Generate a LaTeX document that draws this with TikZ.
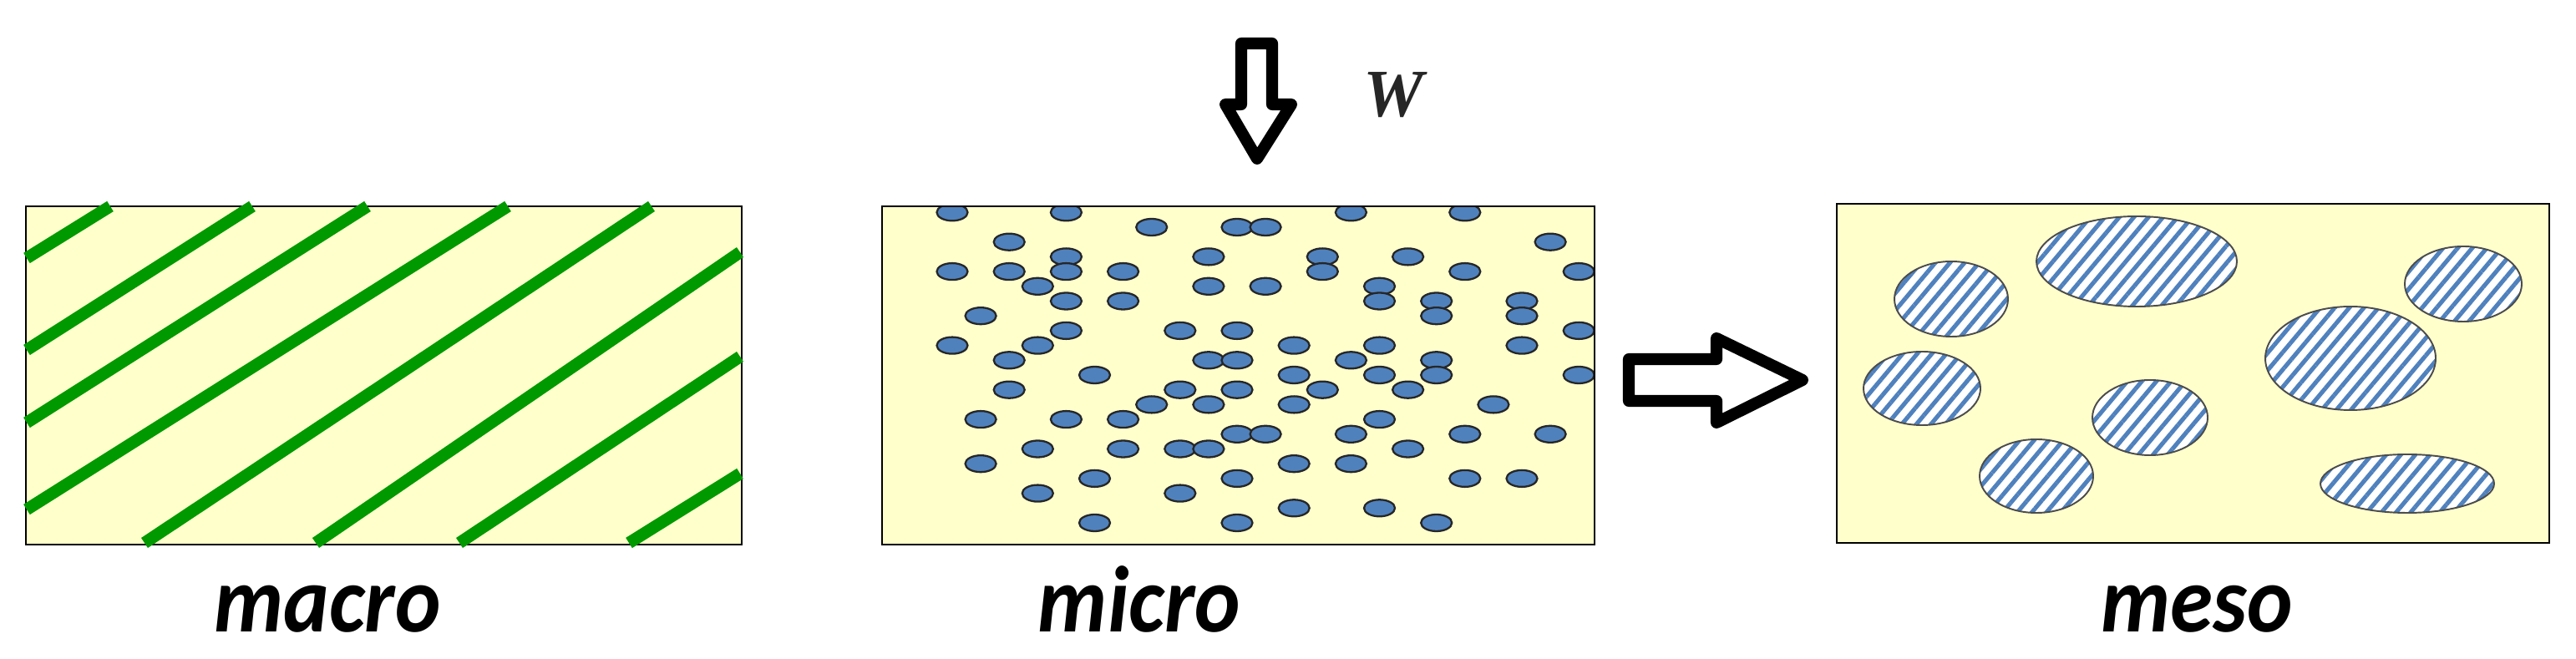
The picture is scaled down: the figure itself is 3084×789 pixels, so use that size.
\documentclass[tikz,border=0pt]{standalone}
\usepackage{fontspec}
\usetikzlibrary{patterns.meta}
\newfontfamily\capfont{Carlito}
\newfontfamily\wfont{Liberation Serif}
\definecolor{paper}{RGB}{255,255,204}
\definecolor{fibre}{RGB}{0,153,0}
\definecolor{grainblue}{RGB}{79,129,189}
\tikzset{
  matrixbox/.style={fill=paper},
  boxline/.style={draw=black,line width=0.8pt},
  fibreline/.style={draw=fibre,line width=4.1pt},
  grainpt/.style={draw=black!85,line width=0.65pt,fill=grainblue},
  pore/.style={preaction={fill=white},pattern={Lines[angle=50,distance=3.8pt,line width=1.45pt]},pattern color=grainblue,draw=black!70,line width=0.55pt},
  hollowarrow/.style={draw=black,line width=4pt,line join=round,fill=white},
  caption/.style={font=\capfont\bfseries\itshape\fontsize{32}{32}\selectfont,inner sep=0pt,anchor=base,xscale=0.92}
}
\begin{document}
\begin{tikzpicture}[x=0.01cm,y=-0.01cm]
\useasboundingbox (0,0) rectangle (3084,789);

%%%%%%%%%%%%%%%%%%%%%%%%%%%% macro
\path[matrixbox] (31,247) rectangle (888,652);\draw[boxline] (31,247) rectangle (888,652);
\draw[fibreline] (32,309) to (132,247);\draw[fibreline] (32,419) to (302,247);
\draw[fibreline] (32,506) to (440,247);\draw[fibreline] (32,610) to (608,247);
\draw[fibreline] (173,650) to (780,247);\draw[fibreline] (378,650) to (886,302);
\draw[fibreline] (550,650) to (886,427);\draw[fibreline] (753,650) to (886,567);
\node[caption] (macrolab) at (392,757) {macro};

%%%%%%%%%%%%%%%%%%%%%%%%%%%% micro
\path[matrixbox] (1056,247) rectangle (1909,652);
\begin{scope}
\clip (1056,247) rectangle (1909,652);
\foreach \r/\cols in {0/{0,4,14,18},1/{7,10,11},2/{2,21},3/{4,9,13,16},4/{0,2,4,6,13,18,22},
  5/{3,9,11,15},6/{4,6,15,17,20},7/{1,17,20},8/{4,8,10,22},9/{0,3,12,15,20},10/{2,9,10,14,17},
  11/{5,12,15,17,22},12/{2,8,10,13,16},13/{7,9,12,19},14/{1,4,6,15},15/{10,11,14,18,21},
  16/{3,6,8,9,16},17/{1,12,14},18/{5,10,18,20},19/{3,8},20/{12,15},21/{5,10,17}}
  \foreach \c in \cols
    \draw[grainpt] ({1140+34.1*\c},{254.3+17.7*\r}) ellipse [x radius=18.5,y radius=10];
\end{scope}
\draw[boxline] (1056,247) rectangle (1909,652);
\node[caption] (microlab) at (1364,757) {micro};

%%%%%%%%%%%%%%%%%%%%%%%%%%%% load
\draw[hollowarrow] (1486,52) -- (1523,52) -- (1523,125) -- (1546,125) -- (1505,190) -- (1467,125) -- (1486,125) -- cycle;
\node[font=\wfont\bfseries\itshape\fontsize{23}{23}\selectfont,text=black!85,inner sep=0pt] (wlabel) at (1668,114) {W};

%%%%%%%%%%%%%%%%%%%%%%%%%%%% arrow to meso
\draw[hollowarrow] (1950,430) -- (2055,430) -- (2055,405) -- (2158,455) -- (2055,506) -- (2055,480) -- (1950,480) -- cycle;

%%%%%%%%%%%%%%%%%%%%%%%%%%%% meso
\path[matrixbox] (2199,244) rectangle (3052,650);\draw[boxline] (2199,244) rectangle (3052,650);
\path[pore] (2558,313) ellipse [x radius=120,y radius=54];
\path[pore] (2336,358) ellipse [x radius=68,y radius=45];
\path[pore] (2301,465) ellipse [x radius=70,y radius=44];
\path[pore] (2438,570) ellipse [x radius=68,y radius=44];
\path[pore] (2574,500) ellipse [x radius=69,y radius=45];
\path[pore] (2814,429) ellipse [x radius=102,y radius=62];
\path[pore] (2949,340) ellipse [x radius=70,y radius=45];
\path[pore] (2882,579) ellipse [x radius=104,y radius=35];
\node[caption] (mesolab) at (2630,757) {meso};

\end{tikzpicture}
\end{document}
